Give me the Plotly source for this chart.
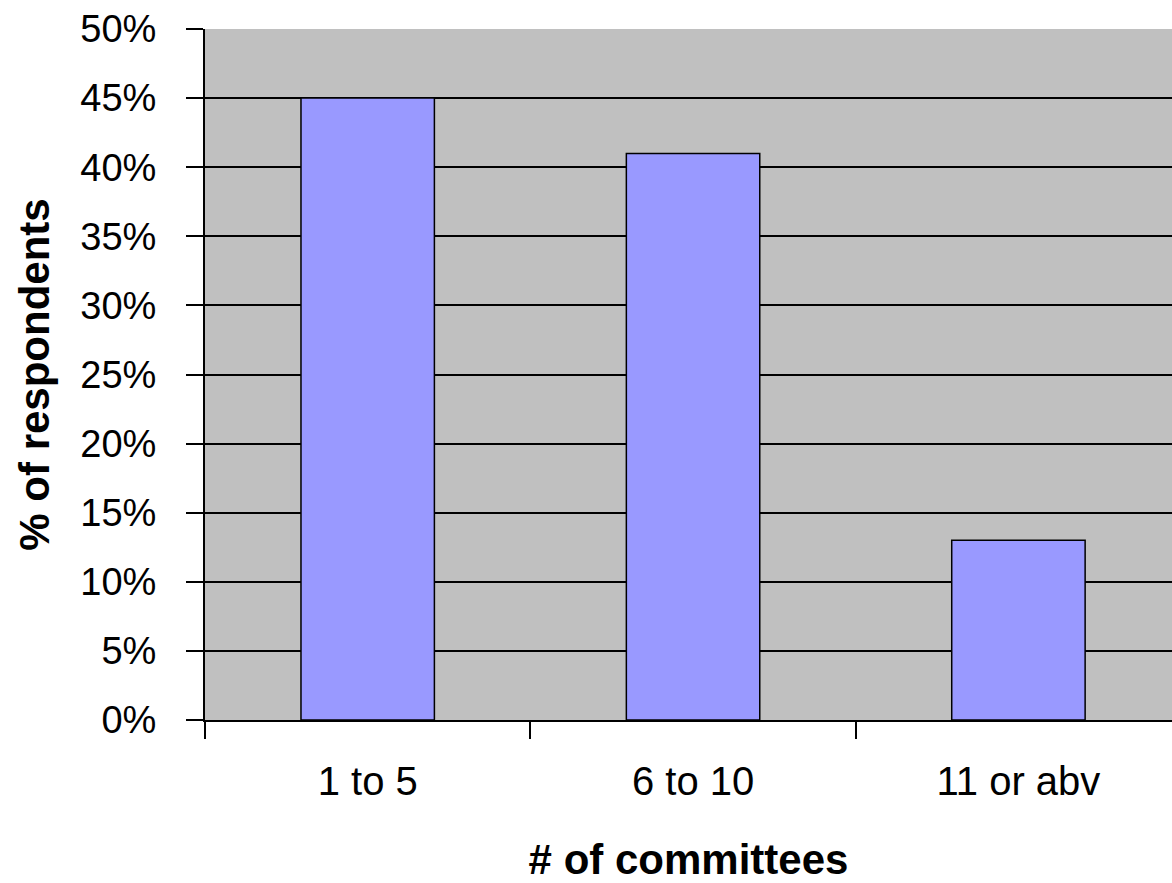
import plotly.graph_objects as go

categories = ["1 to 5", "6 to 10", "11 or abv"]
share = [0.45, 0.41, 0.13]

y_ticks = [i * 0.05 for i in range(11)]

fig = go.Figure(
    go.Bar(
        x=categories,
        y=share,
        width=0.41,
        marker=dict(color="#9999FF", line=dict(color="black", width=1.5)),
    )
)

font_family = "Liberation Sans, Arial, sans-serif"

fig.update_layout(
    width=1172,
    height=883,
    margin=dict(l=205, r=0, t=29, b=163),
    paper_bgcolor="white",
    plot_bgcolor="#C0C0C0",
    showlegend=False,
    font=dict(family=font_family, color="black"),
)

fig.update_xaxes(
    type="category",
    range=[-0.5, 2.472],
    showline=True,
    linecolor="black",
    linewidth=2,
    ticks="outside",
    tickson="boundaries",
    ticklen=17,
    tickwidth=2,
    tickcolor="black",
    showgrid=False,
    tickfont=dict(size=40),
    ticklabelstandoff=25,
    title=dict(text="<b># of committees</b>", font=dict(size=42), standoff=52),
)

fig.update_yaxes(
    range=[0, 0.5],
    tickvals=y_ticks,
    tickformat=".0%",
    showline=True,
    linecolor="black",
    linewidth=2,
    ticks="outside",
    ticklen=17,
    tickwidth=2,
    tickcolor="black",
    showgrid=True,
    gridcolor="black",
    gridwidth=2,
    zeroline=False,
    tickfont=dict(size=38),
    ticklabelstandoff=22,
    title=dict(text="<b>% of respondents</b>", font=dict(size=42), standoff=18),
)

fig.write_html("out.html")
